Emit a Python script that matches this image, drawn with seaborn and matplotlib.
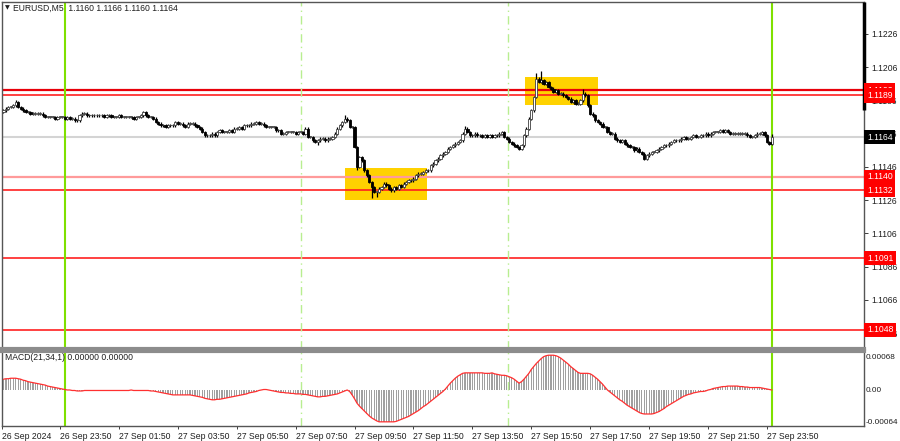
import matplotlib
matplotlib.use("Agg")
import matplotlib.pyplot as plt
import matplotlib.transforms as mtransforms
import numpy as np
import pandas as pd
import seaborn as sns

# EURUSD M5, closes in pips above 1.1100, one value per bar (26 Sep 21:45 .. 27 Sep 23:50)
closes_pips = [
    80, 81, 82, 82, 83, 85, 82, 81, 80, 79, 79, 78,
    78, 78, 78, 78, 77, 76, 76, 76, 76, 75, 76, 76,
    76, 75, 76, 75, 75, 74, 74, 77, 78, 78, 77, 77,
    77, 77, 77, 77, 77, 76, 77, 77, 76, 76, 76, 77,
    76, 76, 76, 76, 76, 75, 76, 76, 77, 79, 77, 76,
    76, 75, 73, 72, 71, 71, 70, 71, 71, 71, 73, 72,
    72, 71, 70, 72, 72, 72, 71, 70, 69, 67, 65, 65,
    65, 66, 65, 67, 68, 67, 67, 67, 68, 67, 69, 69,
    70, 69, 71, 71, 71, 72, 72, 73, 72, 72, 71, 70,
    70, 70, 70, 68, 68, 66, 66, 67, 67, 67, 67, 66,
    67, 67, 66, 69, 64, 64, 62, 61, 62, 63, 63, 62,
    63, 63, 64, 66, 69, 71, 73, 75, 74, 70, 70, 58,
    46, 52, 50, 44, 41, 37, 34, 31, 31, 33, 34, 36,
    35, 33, 32, 34, 33, 35, 34, 36, 37, 38, 38, 39,
    41, 42, 42, 43, 44, 44, 47, 48, 50, 51, 53, 54,
    55, 57, 58, 59, 60, 61, 62, 66, 69, 67, 65, 65,
    66, 65, 65, 64, 65, 64, 65, 64, 65, 65, 66, 67,
    64, 63, 61, 60, 59, 58, 57, 59, 65, 69, 75, 80,
    88, 99, 97, 98, 96, 97, 94, 93, 91, 92, 90, 90,
    89, 88, 87, 85, 86, 84, 84, 86, 90, 89, 83, 78,
    77, 74, 73, 72, 70, 70, 67, 66, 66, 63, 62, 61,
    62, 60, 59, 58, 58, 56, 57, 55, 54, 51, 53, 54,
    55, 55, 56, 57, 58, 59, 59, 60, 61, 62, 62, 62,
    63, 64, 63, 63, 64, 65, 64, 64, 65, 65, 66, 65,
    66, 67, 67, 67, 68, 67, 68, 67, 66, 66, 66, 66,
    66, 66, 66, 65, 64, 64, 65, 66, 66, 67, 65, 61,
    60, 64,
]
first_open_pips = 79
spike_high = {5: 86.5, 139: 77, 188: 70.5, 217: 102.5, 219: 104, 236: 93, 313: 66}
spike_low = {128: 59, 144: 44, 150: 27.4, 152: 28, 262: 50}

# MACD(21,34,1) in 1e-5 units, one value per bar
macd_e5 = [
    22, 23, 23, 24, 24, 24, 23, 22, 20, 19, 17, 16,
    15, 14, 13, 12, 11, 10, 8, 7, 6, 5, 4, 3,
    2, 1, 0, 0, -1, -1, -2, -2, -2, -1, -1, -1,
    -1, -1, -1, -1, -1, -1, -1, -1, -1, -1, -1, -1,
    -1, -1, -1, -1, 0, -1, -1, -1, -1, -1, -1, -1,
    -2, -2, -3, -4, -5, -6, -7, -8, -9, -10, -10, -10,
    -10, -10, -10, -10, -10, -11, -12, -13, -14, -15, -17, -18,
    -19, -20, -20, -19, -19, -18, -17, -16, -15, -14, -13, -12,
    -11, -10, -9, -8, -6, -5, -4, -3, -1, 0, 1, 1,
    0, -1, -2, -3, -4, -5, -5, -6, -6, -7, -7, -8,
    -8, -8, -9, -9, -10, -11, -12, -13, -14, -14, -13, -13,
    -12, -11, -10, -9, -8, -6, -4, -2, 0, -3, -10, -18,
    -27, -33, -38, -43, -48, -53, -57, -60, -63, -65, -65, -65,
    -65, -65, -65, -65, -64, -62, -60, -58, -56, -54, -51, -48,
    -45, -42, -38, -34, -31, -27, -23, -19, -15, -11, -7, -3,
    2, 8, 14, 19, 24, 28, 31, 34, 35, 35, 35, 35,
    35, 35, 35, 35, 34, 34, 34, 35, 33, 32, 31, 30,
    30, 29, 27, 25, 22, 18, 14, 17, 22, 28, 34, 42,
    48, 54, 59, 64, 68, 70, 71, 71, 71, 70, 68, 65,
    61, 57, 53, 48, 44, 40, 36, 34, 34, 34, 34, 33,
    30, 26, 22, 17, 12, 6, 0, -4, -8, -12, -16, -20,
    -23, -27, -31, -34, -37, -40, -43, -46, -48, -49, -49, -49,
    -49, -48, -46, -44, -41, -38, -34, -31, -28, -25, -22, -19,
    -16, -13, -11, -9, -8, -6, -5, -4, -3, -3, -2, 0,
    1, 3, 4, 5, 6, 7, 7, 8, 8, 8, 8, 8,
    7, 7, 6, 6, 5, 5, 5, 5, 5, 4, 3, 2,
    1, 0,
]

levels = [1.1192, 1.1189, 1.1140, 1.1132, 1.1091, 1.1048]
level_labels = ["1.1192", "1.1189", "1.1140", "1.1132", "1.1091", "1.1048"]
current_price = 1.1164

price_ticks = [1.1226, 1.1206, 1.1186, 1.1166, 1.1146, 1.1126, 1.1106, 1.1086, 1.1066, 1.1046]
macd_ticks = [0.00068, 0.0, -0.00064]
macd_tick_labels = ["0.00068", "0.00", "-0.00064"]

date_labels = ["26 Sep 2024", "26 Sep 23:50", "27 Sep 01:50", "27 Sep 03:50", "27 Sep 05:50",
               "27 Sep 07:50", "27 Sep 09:50", "27 Sep 11:50", "27 Sep 13:50", "27 Sep 15:50",
               "27 Sep 17:50", "27 Sep 19:50", "27 Sep 21:50", "27 Sep 23:50"]
date_bars = [0, 25, 49, 73, 97, 121, 145, 169, 193, 217, 241, 265, 289, 313]

day_marks = [25, 313]
session_marks = [121.2, 205.5]
# (bar from, bar to, price low, price high)
boxes = [(139.1, 172.5, 1.11262, 1.11454), (212.4, 242.2, 1.11833, 1.12001)]

# ---- build OHLC table
df = pd.DataFrame({"bar": np.arange(len(closes_pips)), "close": closes_pips})
df["open"] = df["close"].shift(1).fillna(first_open_pips)
df["high"] = df[["open", "close"]].max(axis=1) + 0.8
df["low"] = df[["open", "close"]].min(axis=1) - 0.8
for b, v in spike_high.items():
    df.loc[b, "high"] = max(df.loc[b, "high"], v)
for b, v in spike_low.items():
    df.loc[b, "low"] = min(df.loc[b, "low"], v)
for col in ["open", "close", "high", "low"]:
    df[col] = 1.11 + df[col] / 1e4
df["macd"] = np.array(macd_e5) / 1e5

sns.set_theme(style="white")
plt.rcParams["font.family"] = ["Liberation Sans", "DejaVu Sans"]

fig = plt.figure(figsize=(9, 4.41), dpi=100)
ax = fig.add_axes([2 / 900, 1 - 349 / 441, 862 / 900, 347 / 441])
axm = fig.add_axes([2 / 900, 1 - 426 / 441, 862 / 900, 75 / 441])

xlim = (-0.6, 350.5)
txt_col = "#1e1e1e"
fs = 6.2

# ---- main panel
for (b0, b1, p0, p1) in boxes:
    ax.add_patch(plt.Rectangle((b0, p0), b1 - b0, p1 - p0, facecolor="#ffd200",
                               edgecolor="none", zorder=1))

ax.axhline(current_price, color="#d4d4d4", lw=1.5, zorder=1.5)
for lv in levels:
    if lv == 1.1192:
        ax.axhline(lv, color="#e8000b", lw=1.6, zorder=2)
    elif lv == 1.1140:
        ax.axhline(lv, color="#ff9a9a", lw=1.6, zorder=2)
    else:
        ax.axhline(lv, color="#ff2020", lw=1.2, zorder=2)

for d in day_marks:
    ax.axvline(d, color="#7fe000", lw=1.5, zorder=2.2)
    axm.axvline(d, color="#7fe000", lw=1.5, zorder=2.2)
for s in session_marks:
    ax.axvline(s, color="#b8ee90", lw=1, ls=(0, (6, 3, 1, 3)), zorder=2.2)
    axm.axvline(s, color="#b8ee90", lw=1, ls=(0, (6, 3, 1, 3)), zorder=2.2)

ax.vlines(df["bar"], df["low"], df["high"], color="black", lw=0.9, zorder=3)
bull = df["close"] >= df["open"]
body_lo = df[["open", "close"]].min(axis=1)
body_h = (df["close"] - df["open"]).abs().clip(lower=0.00004)
ax.bar(df["bar"][bull], body_h[bull], bottom=body_lo[bull], width=0.9,
       facecolor="white", edgecolor="#404040", lw=0.6, zorder=4)
ax.bar(df["bar"][~bull], body_h[~bull], bottom=body_lo[~bull], width=0.9,
       facecolor="black", edgecolor="black", lw=0.6, zorder=4)

ax.set_xlim(*xlim)
ax.set_ylim(1.10365, 1.12452)
ax.set_xticks([])
ax.yaxis.tick_right()
ax.set_yticks(price_ticks)
ax.set_yticklabels([f"{t:.4f}" for t in price_ticks])
ax.tick_params(axis="y", labelsize=fs, colors=txt_col, length=3, width=0.6, pad=2,
               direction="out", right=True)
for sp in ["left", "top", "right"]:
    ax.spines[sp].set_color("#555555")
    ax.spines[sp].set_linewidth(1)
ax.spines["bottom"].set_color("#8c8c8c")
ax.spines["bottom"].set_linewidth(3)

trans = mtransforms.blended_transform_factory(ax.transAxes, ax.transData)
ax.plot([1.0, 1.0], [1.1180, 1.12452], transform=trans, color="black", lw=2.5,
        clip_on=False, zorder=5, solid_capstyle="butt")
for lv, lab in zip(levels, level_labels):
    ax.text(1.0035, lv, lab, transform=trans, ha="left", va="center", fontsize=fs,
            color="white", clip_on=False, zorder=6,
            bbox=dict(boxstyle="square,pad=0.3", fc="#ff0000", ec="none"))
ax.text(1.0035, current_price, f"{current_price:.4f}", transform=trans, ha="left",
        va="center", fontsize=fs, color="white", clip_on=False, zorder=6,
        bbox=dict(boxstyle="square,pad=0.3", fc="black", ec="none"))

ax.text(0.003, 0.983, "▼", transform=ax.transAxes, fontsize=4.5, color=txt_col,
        va="center", ha="left", family=["DejaVu Sans"])
ax.text(0.0125, 0.983, "EURUSD,M5  1.1160 1.1166 1.1160 1.1164", transform=ax.transAxes,
        fontsize=fs, color=txt_col, va="center", ha="left")

# ---- MACD panel
axm.bar(df["bar"], df["macd"], width=0.5, color="#a0a0a0", lw=0, zorder=1)
sns.lineplot(data=df, x="bar", y="macd", ax=axm, color="#ff3030", lw=0.9, zorder=3)
axm.set_xlim(*xlim)
axm.set_ylim(-0.000735, 0.000796)
axm.yaxis.tick_right()
axm.set_yticks(macd_ticks)
axm.set_yticklabels(macd_tick_labels)
axm.set_xlabel("")
axm.set_ylabel("")
axm.tick_params(axis="y", labelsize=5.9, colors=txt_col, length=0, pad=1.5, right=True)
tick_pos = [b - 2 for b in date_bars]
tick_pos[0] = -0.4
axm.set_xticks(tick_pos)
axm.set_xticklabels(date_labels)
axm.tick_params(axis="x", labelsize=fs, colors=txt_col, length=2, width=0.6, pad=2,
                direction="out", bottom=True)
for lbl in axm.get_xticklabels():
    lbl.set_horizontalalignment("left")
for sp in ["left", "bottom", "right"]:
    axm.spines[sp].set_color("#555555")
    axm.spines[sp].set_linewidth(1)
axm.spines["top"].set_color("#8c8c8c")
axm.spines["top"].set_linewidth(3)
axm.text(0.003, 0.92, "MACD(21,34,1) 0.00000 0.00000", transform=axm.transAxes,
         fontsize=fs, color=txt_col, va="center", ha="left")

fig.savefig("out.png", dpi=100, facecolor="white")
